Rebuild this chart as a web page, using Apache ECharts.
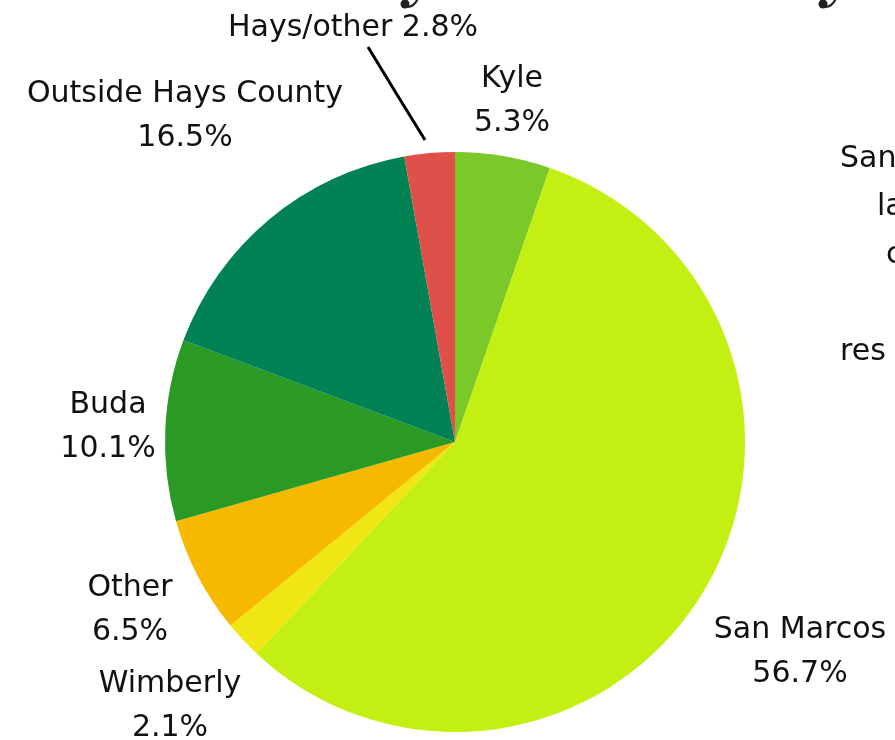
<!DOCTYPE html>
<html>
<head>
<meta charset="utf-8">
<script src="https://cdn.jsdelivr.net/npm/echarts@6/dist/echarts.min.js"></script>
<style>
  html, body { margin: 0; padding: 0; background: #fff; }
  #chart { width: 895px; height: 740px; }
</style>
</head>
<body>
<div id="chart"></div>
<script>
// slices, clockwise from 12 o'clock
var places = ['Kyle', 'San Marcos', 'Wimberly', 'Other', 'Buda', 'Outside Hays County', 'Hays/other']
var shares = [5.3, 56.7, 2.1, 6.5, 10.1, 16.5, 2.8]
var sliceColors = ['#7ac928', '#c4ef12', '#f0e614', '#f7b900', '#2a9a24', '#008255', '#e0504a']

// where each label sits (text centre)
var labelSpots = [[512, 101], [800, 652], [170, 706], [130, 610], [108, 427], [185, 116], [353, 28]]

var FONT = '"DejaVu Sans"'
var SIZE = 30

var chart = echarts.init(document.getElementById('chart'))

// ball-ended tail of a title letter cut off at the top edge
function tail(x) {
  return [
    { type: 'circle', shape: { cx: x, cy: 4, r: 4.5 }, style: { fill: '#222' } },
    { type: 'bezierCurve', shape: { x1: x + 3, y1: 7, cpx1: x + 10, cpy1: 6, x2: x + 13, y2: -2 }, style: { stroke: '#222', lineWidth: 2.2, fill: null } }
  ]
}

chart.setOption({
  animation: false,
  graphic: [
    // text cut off by the right edge
    { type: 'text', left: 840, top: 144, style: { text: 'San', font: SIZE + 'px ' + FONT, fill: '#111' } },
    { type: 'text', left: 877, top: 192, style: { text: 'la', font: SIZE + 'px ' + FONT, fill: '#111' } },
    { type: 'text', left: 886, top: 240, style: { text: 'c', font: SIZE + 'px ' + FONT, fill: '#111' } },
    { type: 'text', left: 840, top: 337, style: { text: 'res', font: SIZE + 'px ' + FONT, fill: '#111' } }
  ].concat(tail(405), tail(823)),
  series: [
    {
      type: 'pie',
      center: [455, 442],
      radius: 290,
      startAngle: 90,
      clockwise: true,
      avoidLabelOverlap: false,
      itemStyle: { borderWidth: 0 },
      label: {
        show: true,
        position: 'outside',
        color: '#111',
        fontFamily: 'DejaVu Sans',
        fontSize: SIZE,
        lineHeight: 44,
        align: 'center',
        formatter: function (p) {
          if (p.dataIndex === 6) return p.name + ' ' + p.value + '%'
          return p.name + '\n' + p.value + '%'
        }
      },
      labelLine: { show: false },
      labelLayout: function (p) {
        var spot = labelSpots[p.dataIndex]
        var out = { x: spot[0], y: spot[1], align: 'center', verticalAlign: 'middle' }
        if (p.dataIndex === 6) {
          out.labelLinePoints = [[425, 140], [396, 93], [368, 47]]
        }
        return out
      },
      emphasis: { disabled: true },
      data: places.map(function (name, i) {
        var item = { name: name, value: shares[i], itemStyle: { color: sliceColors[i] } }
        if (i === 6) {
          item.labelLine = { show: true, lineStyle: { color: '#000', width: 3 } }
        }
        return item
      })
    }
  ]
})
</script>
</body>
</html>
